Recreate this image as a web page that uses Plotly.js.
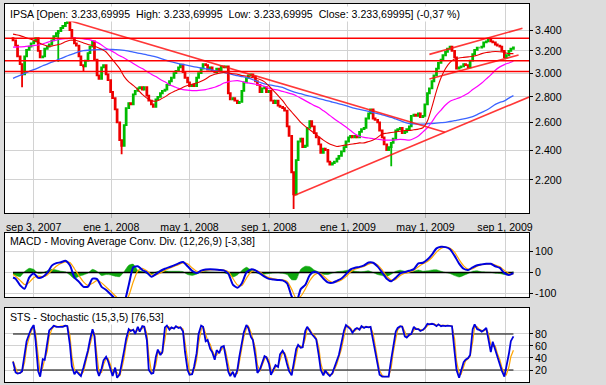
<!DOCTYPE html>
<html>
<head>
<meta charset="utf-8">
<script src="https://cdn.plot.ly/plotly-3.0.1.min.js"></script>
<style>html,body{margin:0;padding:0;background:#dcdcdc;}#chart{width:606px;height:385px;}</style>
</head>
<body>
<div id="chart"></div>
<script>
// ---------------- DATA ----------------
const dates = [
'2007-08-02','2007-08-06','2007-08-09','2007-08-13','2007-08-16','2007-08-20','2007-08-23','2007-08-27','2007-08-30',
'2007-09-03','2007-09-06','2007-09-10','2007-09-13','2007-09-17','2007-09-20','2007-09-24','2007-09-27',
'2007-10-01','2007-10-04','2007-10-08','2007-10-11','2007-10-15','2007-10-18','2007-10-22','2007-10-25','2007-10-29',
'2007-11-01','2007-11-05','2007-11-08','2007-11-12','2007-11-15','2007-11-19','2007-11-22','2007-11-26','2007-11-29',
'2007-12-03','2007-12-06','2007-12-10','2007-12-13','2007-12-17','2007-12-20','2007-12-24','2007-12-27','2007-12-31',
'2008-01-03','2008-01-07','2008-01-10','2008-01-14','2008-01-17','2008-01-21','2008-01-24','2008-01-28','2008-01-31',
'2008-02-04','2008-02-07','2008-02-11','2008-02-14','2008-02-18','2008-02-21','2008-02-25','2008-02-28',
'2008-03-03','2008-03-06','2008-03-10','2008-03-13','2008-03-17','2008-03-20','2008-03-24','2008-03-27','2008-03-31',
'2008-04-03','2008-04-07','2008-04-10','2008-04-14','2008-04-17','2008-04-21','2008-04-24','2008-04-28',
'2008-05-01','2008-05-05','2008-05-08','2008-05-12','2008-05-15','2008-05-19','2008-05-22','2008-05-26','2008-05-29',
'2008-06-02','2008-06-05','2008-06-09','2008-06-12','2008-06-16','2008-06-19','2008-06-23','2008-06-26','2008-06-30',
'2008-07-03','2008-07-07','2008-07-10','2008-07-14','2008-07-17','2008-07-21','2008-07-24','2008-07-28','2008-07-31',
'2008-08-04','2008-08-07','2008-08-11','2008-08-14','2008-08-18','2008-08-21','2008-08-25','2008-08-28',
'2008-09-01','2008-09-04','2008-09-08','2008-09-11','2008-09-15','2008-09-18','2008-09-22','2008-09-25','2008-09-29',
'2008-10-02','2008-10-06','2008-10-09','2008-10-13','2008-10-16','2008-10-20','2008-10-23','2008-10-27','2008-10-30',
'2008-11-03','2008-11-06','2008-11-10','2008-11-13','2008-11-17','2008-11-20','2008-11-24','2008-11-27',
'2008-12-01','2008-12-04','2008-12-08','2008-12-11','2008-12-15','2008-12-18','2008-12-22','2008-12-26','2008-12-29',
'2009-01-02','2009-01-05','2009-01-08','2009-01-12','2009-01-15','2009-01-19','2009-01-22','2009-01-26','2009-01-29',
'2009-02-02','2009-02-05','2009-02-09','2009-02-12','2009-02-16','2009-02-19','2009-02-23','2009-02-26',
'2009-03-02','2009-03-05','2009-03-09','2009-03-12','2009-03-16','2009-03-19','2009-03-23','2009-03-26','2009-03-30',
'2009-04-02','2009-04-06','2009-04-09','2009-04-13','2009-04-16','2009-04-20','2009-04-23','2009-04-27','2009-04-30',
'2009-05-04','2009-05-07','2009-05-11','2009-05-14','2009-05-18','2009-05-21','2009-05-25','2009-05-28',
'2009-06-01','2009-06-04','2009-06-08','2009-06-11','2009-06-15','2009-06-18','2009-06-22','2009-06-25','2009-06-29',
'2009-07-02','2009-07-06','2009-07-09','2009-07-13','2009-07-16','2009-07-20','2009-07-23','2009-07-27','2009-07-30',
'2009-08-03','2009-08-06','2009-08-10','2009-08-13','2009-08-17','2009-08-20','2009-08-24','2009-08-27','2009-08-31',
'2009-09-03','2009-09-07','2009-09-10','2009-09-14'
];
const close = [
3300,3250,3150,3080,2990,3150,3210,3240,3270,
3290,3320,3200,3140,3150,3220,3240,3260,
3300,3340,3370,3390,3420,3440,3470,3500,3400,
3320,3270,3250,3150,3070,3060,3110,3180,3240,
3290,3120,2980,2950,3050,3070,2990,2940,2840,
2790,2700,2600,2470,2430,2580,2710,2750,2740,
2820,2850,2870,2880,2860,2880,2810,2770,
2740,2720,2780,2800,2830,2850,2860,2900,2930,
2960,3000,3020,3050,3075,3010,2960,2920,
2890,2900,2890,2960,3000,3040,3080,3070,3030,
3050,3020,3010,3040,3020,3060,3050,3060,2830,
2780,2790,2770,2750,2760,2850,2920,2960,2980,
2990,2970,2930,2900,2840,2870,2880,2840,
2850,2770,2750,2770,2730,2720,2710,2690,2570,
2500,2250,2110,2330,2460,2480,2420,2430,2560,
2610,2570,2520,2490,2440,2380,2410,2400,
2320,2300,2310,2320,2340,2360,2390,2420,2460,
2490,2500,2490,2500,2490,2530,2550,2560,2630,
2670,2700,2630,2620,2600,2540,2490,2440,
2400,2420,2450,2480,2540,2550,2560,2520,2530,
2550,2570,2650,2660,2650,2670,2640,2650,2740,
2830,2870,2930,2980,3040,3090,3120,3160,
3190,3220,3240,3200,3140,3040,3050,3060,3080,
3070,3050,3110,3170,3210,3230,3230,3240,3280,
3290,3310,3290,3280,3260,3250,3240,3200,3140,
3160,3200,3220,3233.7
];
const openFirst = 3320;
const wickDates = ['2007-08-16','2007-10-11','2007-11-19','2008-01-17','2008-10-09','2009-03-09'];
const wickLows  = [2880, 3100, 3010, 2370, 2023, 2290];

const stochK = [
34,16,14,15,18,47,68,80,88,
95,68,18,9,38,37,65,86,
90,94,92,92,93,92,94,93,62,
26,13,18,13,10,24,35,53,70,
88,76,20,10,22,36,42,35,20,
10,24,7,13,28,53,72,88,85,
87,80,92,84,93,92,70,20,
14,15,42,54,45,50,91,94,87,
91,89,93,90,91,84,50,20,
12,13,25,48,80,94,92,68,70,
55,50,37,53,48,58,60,42,17,
10,17,8,20,42,67,83,95,90,
75,70,42,15,21,32,43,41,
30,12,21,28,25,46,52,46,29,
18,11,30,55,62,57,58,85,92,
84,80,75,71,44,20,11,19,
13,10,15,24,36,45,65,86,95,
91,88,82,88,90,87,93,90,92,
91,92,70,50,26,12,9,9,
8,9,38,60,84,90,93,92,76,
74,79,80,92,88,88,85,87,90,
97,96,97,96,93,96,93,94,
93,94,93,93,50,20,7,18,33,
37,40,45,88,96,88,87,84,86,
90,73,50,67,53,42,31,19,9,
24,47,68,76
];
const stochD = [
35,25,15,15,17,33,58,74,84,
92,82,43,14,24,38,51,76,
88,92,93,92,93,93,93,94,78,
44,20,16,16,12,17,30,44,62,
79,82,48,15,16,29,39,39,28,
15,17,16,10,21,41,63,80,87,
86,84,86,88,89,93,81,45,
17,15,29,48,50,48,71,93,91,
89,90,91,92,91,88,67,35,
16,13,19,37,64,87,93,80,69,
63,53,44,45,51,53,59,51,30,
14,14,13,14,31,55,75,89,93,
83,73,56,29,18,27,38,42,
36,21,17,25,27,36,49,49,38,
24,15,21,43,59,60,58,72,89,
88,82,78,73,58,32,16,15,
16,12,13,20,30,41,55,76,91,
93,90,85,85,89,89,90,92,91,
92,92,81,60,38,19,11,9,
9,9,24,49,72,87,92,93,84,
75,77,80,86,90,88,87,86,89,
94,97,97,97,95,95,95,94,
94,94,94,93,72,35,14,13,26,
35,39,43,67,92,92,88,86,85,
88,82,62,59,60,48,37,25,14,
12,25,42,53
];

const weekDates = [
'2007-08-02','2007-08-06','2007-08-13','2007-08-20','2007-08-27',
'2007-09-03','2007-09-10','2007-09-17','2007-09-24',
'2007-10-01','2007-10-08','2007-10-15','2007-10-22','2007-10-29',
'2007-11-05','2007-11-12','2007-11-19','2007-11-26',
'2007-12-03','2007-12-10','2007-12-17','2007-12-24','2007-12-31',
'2008-01-07','2008-01-14','2008-01-21','2008-01-28',
'2008-02-04','2008-02-11','2008-02-18','2008-02-25',
'2008-03-03','2008-03-10','2008-03-17','2008-03-24','2008-03-31',
'2008-04-07','2008-04-14','2008-04-21','2008-04-28',
'2008-05-05','2008-05-12','2008-05-19','2008-05-26',
'2008-06-02','2008-06-09','2008-06-16','2008-06-23','2008-06-30',
'2008-07-07','2008-07-14','2008-07-21','2008-07-28',
'2008-08-04','2008-08-11','2008-08-18','2008-08-25',
'2008-09-01','2008-09-08','2008-09-15','2008-09-22','2008-09-29',
'2008-10-06','2008-10-13','2008-10-20','2008-10-27',
'2008-11-03','2008-11-10','2008-11-17','2008-11-24',
'2008-12-01','2008-12-08','2008-12-15','2008-12-22','2008-12-29',
'2009-01-05','2009-01-12','2009-01-19','2009-01-26',
'2009-02-02','2009-02-09','2009-02-16','2009-02-23',
'2009-03-02','2009-03-09','2009-03-16','2009-03-23','2009-03-30',
'2009-04-06','2009-04-13','2009-04-20','2009-04-27',
'2009-05-04','2009-05-11','2009-05-18','2009-05-25',
'2009-06-01','2009-06-08','2009-06-15','2009-06-22','2009-06-29',
'2009-07-06','2009-07-13','2009-07-20','2009-07-27',
'2009-08-03','2009-08-10','2009-08-17','2009-08-24','2009-08-31',
'2009-09-07','2009-09-14'
];
const maRed = [
3360,3355,3345,3330,3315, 3300,3280,3260,3245, 3245,3255,3265,3285,3300, 3300,3290,3275,3260, 3250,3235,3215,3190,3140,
3090,3040,2970,2925, 2895,2860,2820,2790, 2770,2765,2780,2800,2825, 2845,2860,2880,2895, 2905,2915,2930,2950,
2975,2990,3000,3005,3000, 2995,2990,2980,2975, 2965,2955,2945,2925, 2890,2850,2810,2770,2720, 2680,2640,2600,2570,
2545,2520,2495,2470, 2450,2435,2425,2430,2435,
2440,2445,2450,2450, 2460,2470,2490,2515, 2520,2525,2530,2535,2540, 2540,2545,2550,2560, 2610,2720,2850,2960,
3040,3095,3125,3135,3140, 3145,3150,3160,3175, 3185,3190,3195,3192,3185, 3175,3175
];
const maMagenta = [
3235,3236,3238,3240,3245, 3250,3255,3265,3280, 3293,3302,3310,3315,3318, 3320,3318,3313,3308, 3297,3280,3255,3225,3205,
3180,3155,3135,3110, 3085,3060,3040,3015, 2990,2970,2945,2925,2900, 2885,2870,2860,2855, 2852,2852,2855,2860,
2870,2880,2895,2915,2925, 2932,2935,2928,2918, 2912,2905,2898,2888, 2870,2862,2855,2845,2835, 2825,2810,2790,2770,
2750,2730,2715,2690, 2665,2638,2612,2590,2565,
2540,2515,2498,2490, 2485,2480,2476,2472, 2470,2470,2472,2475,2473, 2470,2482,2500,2530, 2560,2605,2655,2695,
2735,2765,2780,2792,2810, 2830,2860,2885,2915, 2950,2985,3025,3055,3075, 3090,3105
];
const maBlue = [
2955,2965,2980,2997,3015, 3030,3047,3065,3080, 3097,3113,3130,3147,3163, 3178,3193,3202,3206, 3209,3211,3213,3215,3214,
3212,3210,3205,3197, 3188,3180,3173,3163, 3155,3145,3132,3118,3105, 3095,3085,3076,3068, 3060,3052,3045,3038,
3030,3022,3015,3006,2997, 2988,2978,2970,2962, 2950,2935,2920,2907, 2900,2893,2886,2878,2862, 2848,2835,2826,2815,
2806,2797,2787,2777, 2767,2758,2749,2740,2730,
2718,2708,2700,2693, 2685,2676,2667,2658, 2648,2638,2626,2614,2600, 2591,2589,2588,2588, 2590,2592,2595,2598,
2601,2607,2613,2620,2627, 2635,2645,2660,2677, 2694,2715,2740,2755,2768, 2790,2810
];
const macd = [
-24,-30,-62,-78,-25, -5,-26,-21,-2, 33,45,49,56,35, -24,-45,-69,-68, -30,-32,-69,-84,-105,
-127,-144,-140,-60, 25,30,12,0, -20,-8,8,18,26, 34,44,50,30, 8,-2,9,14,
15,14,12,10,-5, -58,-73,-52,0, 15,10,-5,-20, -31,-34,-36,-38,-52, -115,-145,-80,-60,
-13,3,-5,-29, -48,-50,-40,-29,-8,
15,23,27,34, 48,47,28,0, -30,-42,-25,-4,2, 8,16,44,47, 62,86,116,124,
122,112,80,43,18, 12,25,35,39, 42,42,30,22,-3, -12,-3.4
];
const macdSignal = [
-10,-18,-38,-58,-48, -25,-18,-20,-12, 10,30,43,51,48, 18,-15,-45,-62, -52,-38,-50,-70,-90,
-112,-132,-142,-112, -45,8,20,8, -10,-12,-2,10,20, 29,38,46,42, 22,6,4,10,
13,14,13,11,4, -28,-60,-62,-28, 2,10,2,-14, -25,-31,-34,-36,-43, -80,-125,-115,-80,
-40,-12,-3,-16, -36,-47,-45,-36,-20,
2,16,23,29, 40,46,36,12, -18,-36,-33,-15,-4, 2,10,28,42, 53,72,98,116,
122,117,98,62,32, 16,18,30,37, 40,41,36,27,10, -5,-8
];
const macdHist = [
-10,-15,-20,5,20, 15,-5,-2,8, 15,12,6,3,-12, -30,-18,-12,-3, 15,5,-15,-10,-12,
-18,-20,5,35, 40,10,5,-5, -10,2,8,7,6, 6,6,4,-10, -14,-8,4,4,
2,1,0,-1,-8, -22,-12,10,25, 12,0,-8,-8, -5,-3,-2,-4,-10, -35,-35,15,30,
28,12,2,-8, -10,-3,4,6,10,
12,6,4,5, 8,0,-10,-15, -18,-8,6,11,6, 4,6,12,6, 8,12,13,6,
0,-5,-15,-22,-14, -5,6,8,3, 2,1,-4,-5,-10, -6,4
];

// trend lines (start/end date, start/end value)
const trendStartDates = ['2007-10-24','2008-10-09','2009-05-07','2009-05-07'];
const trendEndDates   = ['2009-05-31','2009-10-08 02:00','2009-09-28','2009-09-22'];
const trendStartVals  = [3503, 2102, 3168, 2950];
const trendEndVals    = [2527, 2799, 3417, 3162];
const hLevels = [3320, 3110, 3015];

const priceTicks = [2200,2400,2600,2800,3000,3200,3400];
const priceTickText = ['2.200','2.400','2.600','2.800','3.000','3.200','3.400'];
const dateTicks = ['2007-09-03','2008-01-01','2008-05-01','2008-09-01','2009-01-01','2009-05-01','2009-09-01'];
const dateTickText = ['sep 3, 2007','ene 1, 2008','may 1, 2008','sep 1, 2008','ene 1, 2009','may 1, 2009','sep 1, 2009'];
const macdTicks = [-100, 0, 100];
const stochTicks = [20, 40, 60, 80];
const stochLevels = [20, 80];

const titleMain = 'IPSA [Open: 3.233,69995\u00a0\u00a0High: 3.233,69995\u00a0\u00a0Low: 3.233,69995\u00a0\u00a0Close: 3.233,69995] (-0,37 %)';
const titleMacd = 'MACD - Moving Average Conv. Div. (12,26,9) [-3,38]';
const titleSts = 'STS - Stochastic (15,3,5) [76,53]';

// ---------------- BUILD ----------------
const open = close.map((c, i) => i === 0 ? openFirst : close[i - 1]);
const high = close.map((c, i) => Math.max(open[i], c));
const low = close.map((c, i) => {
  const w = wickDates.indexOf(dates[i]);
  return w >= 0 ? wickLows[w] : Math.min(open[i], c);
});

const GRID = '#d2d2d2';
const firstDate = dates[0], lastDate = dates[dates.length - 1];
const traces = [];

traces.push({
  type: 'candlestick', x: dates, open: open, high: high, low: low, close: close,
  xaxis: 'x', yaxis: 'y', whiskerwidth: 0,
  increasing: {line: {color: '#00bb00', width: 1.8}, fillcolor: '#00bb00'},
  decreasing: {line: {color: '#ee0000', width: 1.8}, fillcolor: '#ee0000'},
  hoverinfo: 'skip'
});
traces.push({type: 'scatter', mode: 'lines', x: weekDates, y: maBlue, xaxis: 'x', yaxis: 'y',
  line: {color: '#3c64ff', width: 1.3, shape: 'spline', smoothing: 0.6}});
traces.push({type: 'scatter', mode: 'lines', x: weekDates, y: maMagenta, xaxis: 'x', yaxis: 'y',
  line: {color: '#ff00ff', width: 1.2, shape: 'spline', smoothing: 0.6}});
traces.push({type: 'scatter', mode: 'lines', x: weekDates, y: maRed, xaxis: 'x', yaxis: 'y',
  line: {color: '#e80000', width: 1.1, shape: 'spline', smoothing: 0.6}});
for (let i = 0; i < trendStartDates.length; i++) {
  traces.push({type: 'scatter', mode: 'lines', x: [trendStartDates[i], trendEndDates[i]],
    y: [trendStartVals[i], trendEndVals[i]], xaxis: 'x', yaxis: 'y',
    line: {color: 'rgba(255,20,20,0.85)', width: 1.6}});
}

// MACD
traces.push({type: 'scatter', mode: 'lines', x: weekDates, y: macdHist, xaxis: 'x2', yaxis: 'y2',
  fill: 'tozeroy', fillcolor: '#10a810', line: {color: '#10a810', width: 0.5, shape: 'spline', smoothing: 0.5}});
traces.push({type: 'scatter', mode: 'lines', x: [firstDate, lastDate], y: [0, 0], xaxis: 'x2', yaxis: 'y2',
  line: {color: '#000000', width: 1.3}});
traces.push({type: 'scatter', mode: 'lines', x: weekDates, y: macdSignal, xaxis: 'x2', yaxis: 'y2',
  line: {color: '#ffa500', width: 1.2, shape: 'spline', smoothing: 0.6}});
traces.push({type: 'scatter', mode: 'lines', x: weekDates, y: macd, xaxis: 'x2', yaxis: 'y2',
  line: {color: '#0000dd', width: 2, shape: 'spline', smoothing: 0.6}});

// Stochastic
stochLevels.forEach(v => traces.push({type: 'scatter', mode: 'lines', x: [firstDate, lastDate], y: [v, v],
  xaxis: 'x3', yaxis: 'y3', line: {color: '#000000', width: 1.2}}));
traces.push({type: 'scatter', mode: 'lines', x: dates, y: stochD, xaxis: 'x3', yaxis: 'y3',
  line: {color: '#ffa500', width: 1.2}});
traces.push({type: 'scatter', mode: 'lines', x: dates, y: stochK, xaxis: 'x3', yaxis: 'y3',
  line: {color: '#0000dd', width: 1.8}});

const xRange = ['2007-07-20 14:24', '2009-10-08 02:00'];
const baseX = {
  type: 'date', range: xRange, showgrid: true, gridcolor: GRID, gridwidth: 1,
  tickvals: dateTicks, ticktext: dateTickText, zeroline: false,
  showline: true, linecolor: '#000', linewidth: 1, mirror: true, fixedrange: true
};
const baseY = {
  side: 'right', showgrid: true, gridcolor: GRID, zeroline: false,
  showline: true, linecolor: '#000', linewidth: 1, mirror: true,
  ticks: 'outside', ticklen: 3, tickcolor: '#000', fixedrange: true,
  tickfont: {size: 10.6, color: '#000'}
};

const layout = {
  width: 606, height: 385,
  margin: {l: 5, r: 77, t: 4, b: 3, pad: 0},
  paper_bgcolor: '#dcdcdc', plot_bgcolor: '#ffffff',
  showlegend: false,
  font: {family: '"Liberation Sans", Arial, sans-serif', size: 10.6, color: '#000'},
  xaxis: Object.assign({}, baseX, {anchor: 'y', ticks: 'outside', ticklen: 4, tickcolor: '#b0b0b0',
    tickfont: {size: 10.6, color: '#000'}, rangeslider: {visible: false}}),
  xaxis2: Object.assign({}, baseX, {anchor: 'y2', matches: 'x', showticklabels: false, ticks: ''}),
  xaxis3: Object.assign({}, baseX, {anchor: 'y3', matches: 'x', showticklabels: false, ticks: ''}),
  yaxis: Object.assign({}, baseY, {domain: [169/378, 1], type: 'log',
    range: [Math.log10(1999), Math.log10(3666.6)], tickvals: priceTicks, ticktext: priceTickText}),
  yaxis2: Object.assign({}, baseY, {domain: [85/378, 149/378], range: [-118, 190],
    tickvals: macdTicks, ticktext: macdTicks.map(String)}),
  yaxis3: Object.assign({}, baseY, {domain: [0, 74/378], range: [0, 123.3],
    tickvals: stochTicks, ticktext: stochTicks.map(String)}),
  shapes: hLevels.map(v => ({type: 'line', xref: 'x domain', yref: 'y', x0: 0, x1: 1, y0: v, y1: v,
    line: {color: '#ff0000', width: 1.5}, layer: 'above'})),
  annotations: [
    {text: titleMain, xref: 'paper', yref: 'paper', x: 3/524, y: (382-13.7)/378, xanchor: 'left', yanchor: 'middle',
      showarrow: false, bgcolor: '#ffffff', borderpad: 1, font: {size: 10.6, color: '#000'}},
    {text: titleMacd, xref: 'paper', yref: 'paper', x: 3/524, y: (382-240.7)/378, xanchor: 'left', yanchor: 'middle',
      showarrow: false, bgcolor: '#ffffff', borderpad: 1, font: {size: 10.6, color: '#000'}},
    {text: titleSts, xref: 'paper', yref: 'paper', x: 3/524, y: (382-317.3)/378, xanchor: 'left', yanchor: 'middle',
      showarrow: false, bgcolor: '#ffffff', borderpad: 1, font: {size: 10.6, color: '#000'}}
  ]
};

Plotly.newPlot('chart', traces, layout, {staticPlot: true, displayModeBar: false});
</script>
</body>
</html>
